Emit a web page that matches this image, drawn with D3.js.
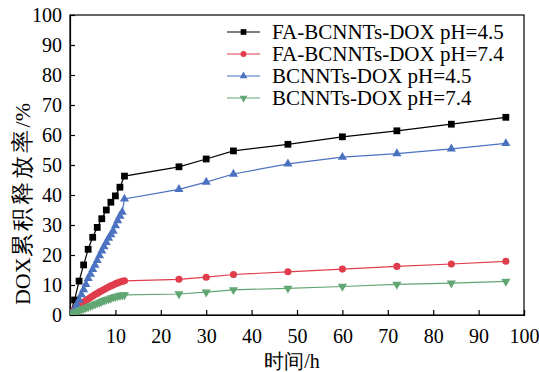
<!DOCTYPE html>
<html>
<head>
<meta charset="utf-8">
<script src="https://cdn.jsdelivr.net/npm/d3@7/dist/d3.min.js"></script>
<style>
body { margin: 0; background: #fff; }
svg text { font-family: "Times New Roman", "Liberation Serif", serif; }
</style>
</head>
<body>
<div id="chart"></div>
<script>
// time points (h)
var tEarly = [0, 1, 2, 3, 4, 5, 6, 7, 8, 9, 10, 11, 12];
var tHalf = [0, 0.5, 1, 1.5, 2, 2.5, 3, 3.5, 4, 4.5, 5, 5.5, 6, 6.5, 7, 7.5, 8, 8.5, 9, 9.5, 10, 10.5, 11, 11.5, 12];
var tLate = [24, 30, 36, 48, 60, 72, 84, 96];

// cumulative release (%)
var faPh45Early = [0, 5, 11.3, 16.7, 21.9, 25.9, 29.2, 32.1, 35, 37.6, 39.7, 42.6, 46.3];
var faPh45Late = [49.4, 52, 54.7, 56.9, 59.4, 61.4, 63.6, 65.9];
var faPh74Early = [0, 1, 1.8, 2.5, 3.2, 3.8, 4.3, 4.8, 5.3, 5.8, 6.3, 6.8, 7.2, 7.7, 8.1, 8.5, 8.9, 9.3, 9.7, 10.0, 10.4, 10.7, 11.0, 11.2, 11.4];
var faPh74Late = [11.9, 12.6, 13.5, 14.4, 15.3, 16.2, 17.0, 17.9];
var bPh45Early = [0, 0.8, 1.8, 3.3, 5.0, 6.8, 8.5, 10.2, 12.2, 13.6, 15.2, 16.6, 18.2, 19.8, 21.4, 22.8, 24.2, 25.6, 26.8, 28.0, 29.8, 31.5, 33.0, 34.3, 38.7];
var bPh45Late = [41.9, 44.3, 47, 50.4, 52.6, 53.8, 55.4, 57.2];
var bPh74Early = [0, 0.4, 0.8, 1.2, 1.5, 1.8, 2.1, 2.4, 2.7, 3.0, 3.3, 3.6, 3.9, 4.2, 4.5, 4.8, 5.1, 5.3, 5.6, 5.9, 6.1, 6.3, 6.5, 6.6, 6.7];
var bPh74Late = [7.0, 7.6, 8.4, 8.9, 9.5, 10.2, 10.6, 11.2];

var xTicks = [10, 20, 30, 40, 50, 60, 70, 80, 90, 100];
var yTicks = [0, 10, 20, 30, 40, 50, 60, 70, 80, 90, 100];

var serif = "'Times New Roman', 'Liberation Serif', serif";

function pts(ts, vs) { return ts.map(function(t, i) { return {t: t, v: vs[i]}; }); }

var series = [
  {name: "FA-BCNNTs-DOX pH=4.5", color: "#000000", symbol: d3.symbolSquare, size: 46, rot: 0,
   data: pts(tEarly, faPh45Early).concat(pts(tLate, faPh45Late))},
  {name: "FA-BCNNTs-DOX pH=7.4", color: "#e03c4b", symbol: d3.symbolCircle, size: 40, rot: 0,
   data: pts(tHalf, faPh74Early).concat(pts(tLate, faPh74Late))},
  {name: "BCNNTs-DOX pH=4.5", color: "#4a72c0", symbol: d3.symbolTriangle, size: 36, rot: 0,
   data: pts(tHalf, bPh45Early).concat(pts(tLate, bPh45Late))},
  {name: "BCNNTs-DOX pH=7.4", color: "#62a673", symbol: d3.symbolTriangle, size: 36, rot: 180,
   data: pts(tHalf, bPh74Early).concat(pts(tLate, bPh74Late))}
];

// set the dimensions and margins of the graph
var margin = {top: 15, right: 15, bottom: 57, left: 70},
width = 539 - margin.left - margin.right,
height = 372 - margin.top - margin.bottom;

var svg = d3.select("#chart")
.append("svg")
.attr("width", width + margin.left + margin.right)
.attr("height", height + margin.top + margin.bottom)
.append("g")
.attr("transform", "translate(" + margin.left + "," + margin.top + ")");

var x = d3.scaleLinear().domain([0, 100]).range([0, width]);
var y = d3.scaleLinear().domain([0, 100]).range([height, 0]);

// clip so markers at origin stay inside the frame
svg.append("clipPath").attr("id", "clip")
.append("rect").attr("width", width).attr("height", height);

// frame
svg.append("rect")
.attr("width", width).attr("height", height)
.attr("fill", "none").attr("stroke", "#000").attr("stroke-width", 1.2);

// axes
var xAxis = svg.append("g")
.attr("transform", "translate(0," + height + ")")
.call(d3.axisBottom(x).tickValues(xTicks).tickSize(-5).tickPadding(14));
var yAxis = svg.append("g")
.call(d3.axisLeft(y).tickValues(yTicks).tickSize(-5).tickPadding(8));
[xAxis, yAxis].forEach(function(a) {
  a.attr("font-family", serif).attr("font-size", 20);
  a.select(".domain").attr("stroke-width", 1.2);
  a.selectAll("line").attr("stroke-width", 1.2);
  a.selectAll("text").attr("fill", "#000");
});

var plot = svg.append("g").attr("clip-path", "url(#clip)");

var line = d3.line()
.x(function(d) { return x(d.t); })
.y(function(d) { return y(d.v); });

series.forEach(function(s) {
  plot.append("path")
  .datum(s.data)
  .attr("fill", "none")
  .attr("stroke", s.color)
  .attr("stroke-width", 1.2)
  .attr("d", line);
});

series.forEach(function(s) {
  plot.selectAll(null)
  .data(s.data)
  .enter()
  .append("path")
  .attr("d", d3.symbol().type(s.symbol).size(s.size))
  .attr("transform", function(d) { return "translate(" + x(d.t) + "," + y(d.v) + ") rotate(" + s.rot + ")"; })
  .attr("fill", s.color);
});

// legend
var legend = svg.append("g").attr("transform", "translate(157,17)");
series.forEach(function(s, i) {
  var g = legend.append("g").attr("transform", "translate(0," + (i * 22) + ")");
  g.append("line").attr("x1", 0).attr("x2", 33).attr("stroke", s.color).attr("stroke-width", 1.2);
  g.append("path")
  .attr("d", d3.symbol().type(s.symbol).size(s.size * 0.7))
  .attr("transform", "translate(16.5,0) rotate(" + s.rot + ")")
  .attr("fill", s.color);
  g.append("text").attr("x", 45).attr("dy", "0.35em")
  .style("font-family", serif)
  .style("font-size", "21px").text(s.name);
});

// axis titles
svg.append("text")
.attr("x", width / 2 - 5).attr("y", height + 53)
.attr("text-anchor", "middle")
.style("font-family", serif)
.style("font-size", "20px")
.text("时间/h");

var yl = svg.append("text")
.attr("transform", "translate(-48," + (204 - margin.top) + ") rotate(-90)")
.attr("text-anchor", "middle")
.attr("dy", "0.35em")
.style("font-family", serif)
.style("font-size", "22px");
yl.append("tspan").text("DOX");
yl.append("tspan").style("font-size", "23px").style("letter-spacing", "3px").text("累积释放率");
yl.append("tspan").text("/%");
</script>
</body>
</html>
